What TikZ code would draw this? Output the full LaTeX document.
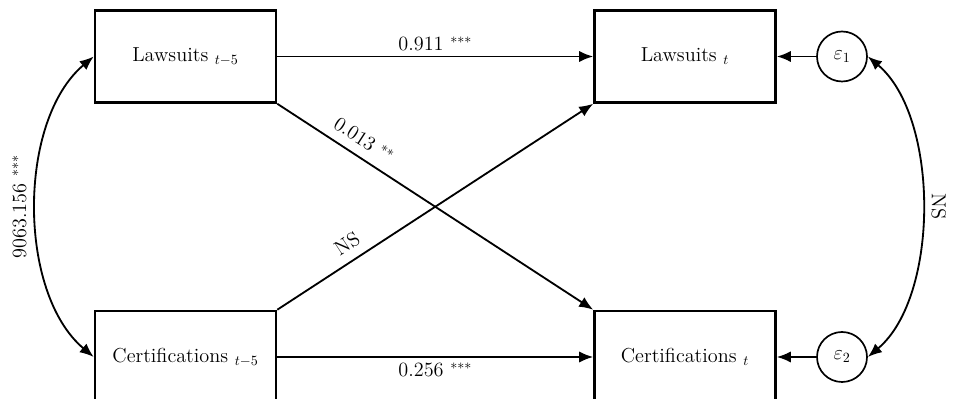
\documentclass[tikz,border=0pt]{standalone}
\usepackage{tikz}
\usetikzlibrary{arrows.meta}
\usepackage{amsmath}

\tikzset{
  var/.style={draw, line width=1.8pt, minimum width=4.525cm, minimum height=2.3cm, font=\Large},
  err/.style={circle, draw, line width=1.2pt, minimum size=1.25cm, inner sep=0pt, font=\Large},
  path/.style={-{Latex[length=10pt,width=8pt]}, line width=1.3pt},
  cov/.style={{Latex[length=10pt,width=8pt]}-{Latex[length=10pt,width=8pt]}, line width=1.3pt},
  lab/.style={font=\Large}
}

\begin{document}
\begin{tikzpicture}[x=0.025cm, y=0.025cm]
\useasboundingbox (0,0) rectangle (959,399);
\node[var] (law5) at (185.5,342.5) {Lawsuits $_{t-5}$};
\node[var] (cert5) at (185.5,42) {Certifications $_{t-5}$};
\node[var] (lawt) at (685,342.5) {Lawsuits $_{t}$};
\node[var] (certt) at (685,42) {Certifications $_{t}$};
\node[err] (e1) at (842,342.5) {$\varepsilon_1$};
\node[err] (e2) at (842,42) {$\varepsilon_2$};

\draw[path] (law5) -- node[lab, above] {0.911 $^{***}$} (lawt);
\draw[path] (cert5) -- node[lab, below] {0.256 $^{***}$} (certt);
\draw[path] (law5.south east) -- node[lab, sloped, above=3pt, pos=0.245] {0.013 $^{**}$} (certt.north west);
\draw[path] (cert5.north east) -- node[lab, sloped, above=3pt, pos=0.25] {NS} (lawt.south west);
\draw[path] (e1) -- (lawt);
\draw[path] (e2) -- (certt);
\draw[cov] (law5.west) to[out=220, in=140, looseness=0.85] node[lab, midway, rotate=90, above=3pt] {9063.156 $^{***}$} (cert5.west);
\draw[cov] (e1.east) to[out=-40, in=40, looseness=0.8] node[lab, midway, rotate=-90, above=3pt] {NS} (e2.east);
\end{tikzpicture}
\end{document}
